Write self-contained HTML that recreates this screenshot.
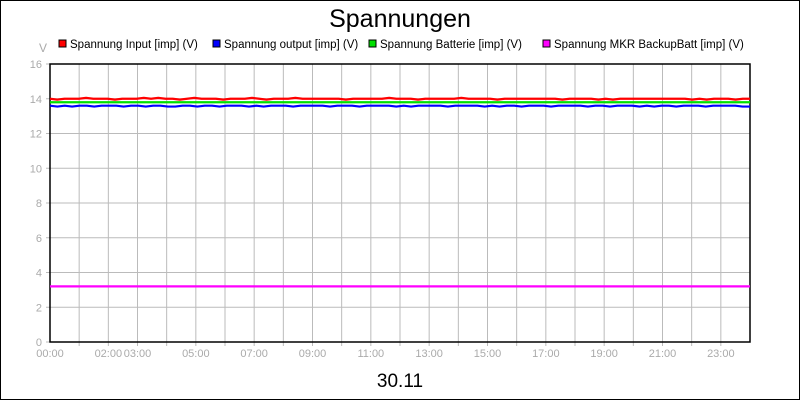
<!DOCTYPE html>
<html><head><meta charset="utf-8"><style>
body{margin:0;background:#fff;}
#c{width:798px;height:398px;border:1px solid #000;position:relative;font-family:"Liberation Sans",sans-serif;}
</style></head><body>
<div id="c">
<svg id="s" width="798" height="398" viewBox="1 1 798 398"></svg>
</div>
<script>
const yTicks=[0,2,4,6,8,10,12,14,16];
const xLabels=["00:00","02:00","03:00","05:00","07:00","09:00","11:00","13:00","15:00","17:00","19:00","21:00","23:00"];
const xLabelHours=[0,2,3,5,7,9,11,13,15,17,19,21,23];
const seriesNames=["Spannung Input [imp] (V)","Spannung output [imp] (V)","Spannung Batterie [imp] (V)","Spannung MKR BackupBatt [imp] (V)"];
const seriesColors=["#ff0000","#0000ff","#00e000","#ff00ff"];
const inputV=[14.0,13.95,14.0,14.0,14.0,14.05,14.0,14.0,14.0,13.95,14.0,14.0,14.0,14.05,14.0,14.05,14.0,14.0,13.95,14.0,14.05,14.0,14.0,14.0,13.95,14.0,14.0,14.0,14.05,14.0,13.95,14.0,14.0,14.0,14.05,14.0,14.0,14.0,14.0,14.0,14.0,13.95,14.0,14.0,14.0,14.0,14.0,14.05,14.0,14.0,14.0,13.95,14.0,14.0,14.0,14.0,14.0,14.05,14.0,14.0,14.0,14.0,13.95,14.0,14.0,14.0,14.0,14.0,14.0,14.0,14.0,13.95,14.0,14.0,14.0,14.0,13.95,14.0,13.95,14.0,14.0,14.0,14.0,14.0,14.0,14.0,14.0,14.0,14.0,13.95,14.0,13.95,14.0,14.0,14.0,13.95,14.0,14.0];
const outputV=[13.6,13.55,13.6,13.55,13.6,13.6,13.55,13.6,13.6,13.6,13.55,13.6,13.6,13.55,13.6,13.6,13.55,13.55,13.6,13.6,13.55,13.6,13.6,13.55,13.6,13.6,13.6,13.55,13.6,13.55,13.6,13.6,13.6,13.55,13.6,13.6,13.6,13.6,13.55,13.6,13.6,13.6,13.55,13.6,13.6,13.6,13.6,13.55,13.6,13.55,13.6,13.6,13.6,13.6,13.55,13.6,13.6,13.6,13.6,13.55,13.6,13.55,13.6,13.6,13.55,13.6,13.6,13.6,13.55,13.6,13.6,13.6,13.6,13.55,13.6,13.6,13.55,13.6,13.6,13.6,13.55,13.6,13.55,13.6,13.6,13.55,13.6,13.6,13.6,13.55,13.6,13.6,13.6,13.6,13.55,13.55];
const battV=Array(98).fill(13.8);
const backupV=Array(98).fill(3.2);
const seriesData=[inputV,outputV,battV,backupV];

const svg=document.getElementById('s');const NS="http://www.w3.org/2000/svg";
const X0=50,X1=750,Y0=342,Y1=64;
const yS=v=>Y0-(v-0)/(16-0)*(Y0-Y1);
const xH=h=>X0+h/24*(X1-X0);
function mk(t,a,p){const e=document.createElementNS(NS,t);for(const k in a)e.setAttribute(k,a[k]);(p||svg).appendChild(e);return e;}
let e=mk('text',{x:400,y:27,'text-anchor':'middle','font-size':25,fill:'#000'});e.textContent="Spannungen";


e=mk('text',{x:400,y:387,'text-anchor':'middle','font-size':19,fill:'#000'});e.textContent="30.11";


e=mk('text',{x:43,y:52,'text-anchor':'middle','font-size':12,fill:'#aaa'});e.textContent="V";


for(let h=1;h<24;h++){e=mk('line',{x1:xH(h),x2:xH(h),y1:Y1,y2:Y0+4,stroke:'#bbb'});

}
yTicks.forEach(v=>{e=mk('line',{x1:X0-4,x2:X1,y1:yS(v),y2:yS(v),stroke:'#bbb'});


e=mk('text',{x:X0-8,y:yS(v)+4,'text-anchor':'end','font-size':11,fill:'#aaa'});e.textContent=v;

});
xLabels.forEach((l,i)=>{e=mk('text',{x:xH(xLabelHours[i]),y:357,'text-anchor':'middle','font-size':11,fill:'#aaa'});e.textContent=l;

});
e=mk('rect',{x:X0,y:Y1,width:X1-X0,height:Y0-Y1,fill:'none',stroke:'#000','stroke-width':1.5});


seriesData.forEach((d,si)=>{const n=d.length;const pts=d.map((v,i)=>[X0+i/(n-1)*(X1-X0),yS(v)]);
e=mk('polyline',{points:pts.map(p=>p.join(',')).join(' '),fill:'none',stroke:seriesColors[si],'stroke-width':2.2,'stroke-linejoin':'round'});

});
const lx=[59,213,369,543];
seriesNames.forEach((nm,i)=>{const g=mk('g',{});


mk('rect',{x:lx[i],y:40,width:7,height:7,fill:seriesColors[i],stroke:'#000'},g);
const t=mk('text',{x:lx[i]+11,y:48,'font-size':11.5,fill:'#000'},g);t.textContent=nm;});
</script>
</body></html>
